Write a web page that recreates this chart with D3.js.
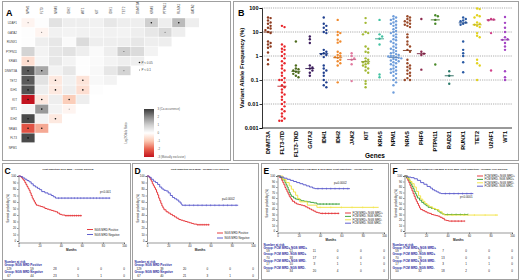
<!DOCTYPE html>
<html lang="en">
<head>
<meta charset="UTF-8">
<title>MRD figure</title>
<style>
  body { margin: 0; background: #fff; }
  svg { display: block; font-family: "Liberation Sans", Arial, sans-serif; }
</style>
</head>
<body>
<script src="https://cdn.jsdelivr.net/npm/d3@7/dist/d3.min.js"></script>
<script>
// ---------- Panel A: pairwise co-occurrence (log2 odds ratio) ----------
const heatRows = ["U2AF1", "GATA2", "RUNX1", "PTPN11", "KRAS", "DNMT3A", "TET2", "IDH1", "KIT", "WT1", "IDH2", "NRAS", "FLT3", "NPM1"];
const heatCols = ["NPM1", "FLT3", "NRAS", "IDH2", "WT1", "KIT", "IDH1", "TET2", "DNMT3A", "KRAS", "PTPN11", "RUNX1", "GATA2"];
const logOdds = [
  [-0.2, 0.05, 0.6, 0.35, 0.35, 0.3, 0.5, 0.35, 0.35, 1.0, 0.35, 1.3, 0.35],
  [0.05, -0.2, 0.3, 0.25, 0.3, 0.25, 0.3, 0.25, 0.35, 0.5, 0.8, 0.35],
  [0.05, 0.35, 0.5, 0.1, 0.75, 0.35, 0.35, 0.35, 0.5, 0.35, 0.35],
  [0.9, 0.25, 0.5, 0.6, 0.35, 0.1, 0.35, 1.0, 0.75, 0.25],
  [-0.6, 0.2, 0.5, 0.25, 0.05, 0.1, 0.25, 0.35, 0.35],
  [2.6, 1.6, 0.25, 0.5, 0.05, 0.15, 0.5, 0.9],
  [2.6, 0.6, -0.4, 0.3, -0.5, 0.15, 0.25],
  [2.7, 0.35, -0.4, 0.35, -0.6, 0.05],
  [-3.0, -0.4, 0.35, -0.9, 0.35],
  [0.2, 1.8, 0.25, -0.2],
  [2.8, 0.25, -0.4],
  [-2.2, -1.3],
  [2.8],
  []
];
// 2 = P < 0.05, 1 = P < 0.1
const signif = [
  [1, 0, 0, 0, 0, 0, 0, 0, 0, 2, 0, 2, 0],
  [0, 1, 0, 0, 0, 0, 0, 0, 0, 0, 1, 0],
  [0, 0, 0, 0, 0, 0, 0, 0, 0, 0, 0],
  [0, 0, 0, 0, 0, 0, 0, 1, 0, 0],
  [2, 0, 0, 0, 0, 0, 0, 0, 0],
  [2, 2, 0, 0, 0, 0, 0, 1],
  [2, 0, 2, 0, 2, 0, 0],
  [2, 0, 2, 0, 2, 0],
  [2, 2, 0, 2, 0],
  [0, 2, 0, 1],
  [2, 0, 2],
  [2, 2],
  [2],
  []
];
const oddsTicks = ["3 (Co-occurrence)", "2", "1", "0", "-1", "-2", "-3 (Mutually exclusive)"];

// ---------- Panel B: variant allele frequency per gene ----------
const vafGenes = ["DNMT3A", "FLT3-ITD", "FLT3-TKD", "GATA2", "IDH1", "IDH2", "JAK2", "KIT", "KRAS", "NPM1", "NRAS", "PHF6", "PTPN11", "RAD21", "RUNX1", "TET2", "U2AF1", "WT1"];
const vafColors = ["#8e3b1f", "#e8262b", "#4d6b1c", "#3d1d5e", "#1f3f8f", "#f08a2e", "#e27aa0", "#a3b935", "#41c2a2", "#6e9ddb", "#9a4a2a", "#8c2a4e", "#4a8a2a", "#2a7a6a", "#2a5aa4", "#e2d21e", "#d2428a", "#a444c4"];
const vafValues = [
  [40, 38, 30, 25, 22, 18, 15, 14, 12, 10, 9, 4, 3.5, 3, 2.5, 2.2, 1.4, 0.7, 0.45],
  [18, 16, 3, 2.5, 2, 1.8, 1.5, 1.2, 1, 0.8, 0.6, 0.5, 0.4, 0.3, 0.25, 0.2, 0.15, 0.12, 0.1, 0.1, 0.08, 0.06, 0.05, 0.04, 0.03, 0.025, 0.02, 0.015, 0.012, 0.01, 0.008, 0.006, 0.005, 0.004, 0.003, 0.0025, 0.002, 0.002],
  [4, 0.4, 0.3, 0.28, 0.25, 0.22, 0.2, 0.18, 0.15, 0.13],
  [6.5, 5, 3.5, 0.4, 0.33, 0.3, 0.25, 0.2, 0.15],
  [40, 22, 18, 15, 12, 10, 9, 1.8, 1.5, 1.3, 1.2, 1.1, 0.9, 0.4, 0.3, 0.25, 0.2, 0.15, 0.1, 0.08, 0.06, 0.05],
  [32, 10, 9, 7.5, 4.8, 4, 3.6, 1.5, 1.3, 1.1, 1, 0.9, 0.85, 0.7, 0.6, 0.5, 0.4, 0.08],
  [1.3, 1, 0.8, 0.7, 0.45, 0.09],
  [38, 24, 10, 9, 8, 2.5, 2, 1.5, 1.4, 0.8, 0.7, 0.6, 0.55, 0.5, 0.45, 0.4, 0.35, 0.3, 0.25, 0.2, 0.09, 0.07, 0.05],
  [32, 8, 6.5, 5.2, 3, 0.17, 0.13],
  [45, 40, 35, 32, 28, 25, 22, 20, 18, 15, 13, 11, 10, 9, 8, 7, 6, 5, 4.5, 4, 3.5, 3, 2.5, 2.2, 2, 1.8, 1.6, 1.4, 1.3, 1.2, 1.1, 1, 1, 0.95, 0.9, 0.85, 0.8, 0.75, 0.7, 0.65, 0.6, 0.55, 0.5, 0.45, 0.4, 0.35, 0.3, 0.28, 0.25, 0.22, 0.2, 0.18, 0.15, 0.12, 0.1, 0.08, 0.06, 0.03],
  [45, 40, 35, 30, 28, 25, 22, 20, 18, 16, 8, 6, 4, 3, 2.5, 1.8, 1.5, 0.7, 0.5, 0.4, 0.35, 0.3, 0.25, 0.2, 0.18, 0.15, 0.12, 0.1, 0.1],
  [35, 1.5, 1.25, 1.1, 0.27],
  [50, 45, 32, 22, 0.44],
  [0.23, 0.15, 0.07],
  [40, 35, 30, 28, 25, 22, 20, 4, 1.8, 1.3, 1, 0.55, 0.21],
  [95, 90, 50, 45, 40, 25, 22, 20, 18, 16, 9, 7, 6, 0.7, 0.5, 0.4, 0.1],
  [35, 33, 31, 9, 0.25],
  [42, 24, 15, 10, 6, 5, 4.7, 3.5, 2.5, 1.8, 0.23, 0.13, 0.1]
];
const vafMedians = [10, 0.055, 0.23, 0.3, 1.25, 0.85, 0.71, 0.58, 5.2, 0.86, 1.7, 1.25, 32, 0.15, 24, 20, 32, 4.7];
const vafTicks = [0.001, 0.01, 0.1, 1, 10, 100];

// ---------- Panels C-F: Kaplan-Meier curves ----------
const monthTicks = [0, 20, 40, 60, 80, 100];
const survTicks = [0, 10, 20, 30, 40, 50, 60, 70, 80, 90, 100];

const cPos = [[0,100],[2,99],[3,97],[4,95],[5,93],[6,90],[7,87],[8,84],[9,81],[10,78],[11,74],[12,70],[13,66],[14,63],[15,60],[16,57],[17,55],[19,54],[21,53],[23,52],[25,50],[27,49],[29,48],[31,47],[33,46],[35,45],[37,43],[39,41],[41,40],[44,39],[60,39]];
const cPosCens = [45, 47, 49, 51, 53, 55, 57, 59];
const cNeg = [[0,100],[2,99],[4,97],[6,95],[8,93],[10,91],[12,88],[14,85],[16,83],[18,81],[20,79],[22,76],[25,74],[28,72],[31,70],[33,68],[35,66],[87,66]];
const cNegCens = [38, 41, 44, 47, 50, 53, 56, 59, 62, 65, 68, 71, 74, 77, 80, 83, 86];

const dPos = [[0,100],[2,98],[3,95],[4,92],[5,88],[6,85],[7,82],[8,79],[9,75],[10,71],[11,66],[12,62],[13,58],[14,54],[15,51],[16,48],[18,45],[20,43],[22,41],[24,39],[26,37],[28,35],[30,33],[32,32],[34,31],[36,30],[38,29],[40,28],[42,27],[44,26],[47,25],[59,25]];
const dPosCens = [48, 50, 52, 54, 56, 58];
const dNeg = [[0,100],[2,98],[4,95],[6,92],[8,90],[10,87],[12,83],[14,80],[16,78],[18,77],[20,74],[22,70],[24,67],[26,65],[28,63],[30,60],[32,57],[33,55],[86,55]];
const dNegCens = [36, 40, 44, 48, 52, 56, 60, 64, 68, 72, 76, 80, 84];

const eRed = [[0,100],[2,97],[4,92],[5,88],[6,84],[7,79],[8,75],[9,71],[10,67],[11,63],[12,60],[13,57],[14,54],[16,51],[18,49],[20,48],[22,47],[24,46],[26,44],[28,42],[30,40],[32,38],[34,36],[36,34],[38,33],[40,32],[58,32]];
const eRedCens = [42, 45, 48, 51, 54, 57];
const eGreen = [[0,100],[3,97],[5,93],[7,88],[8,84],[9,80],[10,75],[11,70],[12,66],[13,63],[15,60],[17,58],[19,57],[22,55],[25,54],[28,53],[31,52],[34,51],[37,49],[58,49]];
const eGreenCens = [40, 43, 46, 49, 52, 55, 58];
const eYellow = [[0,100],[5,94],[8,88],[11,82],[13,76],[15,71],[17,65],[19,59],[21,53],[28,47],[37,43],[95,43]];
const eYellowCens = [40, 50, 60, 70, 80, 90];
const eBlue = [[0,100],[3,98],[6,96],[9,94],[12,92],[15,90],[18,88],[21,86],[24,84],[27,82],[30,80],[33,78],[35,77],[68,77]];
const eBlueCens = [38, 42, 46, 50, 54, 58, 62, 66];

const fRed = [[0,100],[2,96],[3,92],[4,88],[5,83],[6,78],[7,73],[8,68],[9,63],[10,58],[11,54],[12,50],[13,46],[14,42],[15,39],[17,37],[19,35],[21,33],[23,32],[25,30],[27,29],[29,28],[31,27],[33,25],[35,23],[37,20],[39,19],[41,18],[56,18]];
const fRedCens = [44, 47, 50, 53, 56];
const fGreen = [[0,100],[2,97],[4,93],[5,89],[6,85],[7,81],[8,77],[9,72],[10,68],[11,64],[12,60],[14,56],[16,52],[18,49],[20,46],[22,43],[25,41],[28,39],[31,36],[33,33],[35,31],[37,30],[59,30]];
const fGreenCens = [40, 44, 48, 52, 56, 59];
const fYellow = [[0,100],[3,95],[5,90],[7,86],[9,80],[11,72],[13,64],[15,58],[17,54],[19,50],[21,47],[23,44],[26,41],[29,39],[32,35],[35,31],[37,29],[87,29]];
const fYellowCens = [45, 55, 65, 75, 85];
const fBlue = [[0,100],[3,98],[6,97],[9,95],[12,92],[15,88],[18,85],[21,81],[24,78],[26,75],[28,73],[30,71],[32,69],[34,68],[64,68]];
const fBlueCens = [38, 42, 46, 50, 54, 58, 62];

const ngsGroups = ["NGS MRD Positive", "NGS MRD Negative"];
const comboGroups = ["FCM MRD+ NGS MRD+", "FCM MRD- NGS MRD+", "FCM MRD+ NGS MRD-", "FCM MRD- NGS MRD-"];
const cRisk = [[129, 59, 28, 0, 0, 0], [67, 44, 23, 5, 1, 0]];
const dRisk = [[129, 39, 20, 0, 0, 0], [67, 40, 21, 3, 1, 0]];
const eRisk = [[59, 21, 11, 0, 0, 0], [70, 38, 17, 0, 0, 0], [17, 10, 3, 1, 1, 0], [50, 34, 20, 4, 0, 0]];
const fRisk = [[59, 20, 7, 0, 0, 0], [70, 19, 13, 0, 0, 0], [17, 8, 3, 1, 1, 0], [50, 32, 18, 2, 0, 0]];

const RED = "#e3262a", BLUE = "#5050c8", GREEN = "#2e9a2e", YELLOW = "#f2e23a";
const TABLE_BLUE = "#2b2ba0";

const width = 520, height = 280;
const svg = d3.select("body").append("svg")
    .attr("width", width)
    .attr("height", height);

function box(x0, y0, x1, y1) {
    svg.append("rect")
        .attr("x", x0 + 0.5).attr("y", y0 + 0.5)
        .attr("width", x1 - x0).attr("height", y1 - y0)
        .attr("fill", "none")
        .attr("stroke", "#a0a0a0")
        .attr("stroke-width", 1);
}

function letter(t, x, y, size) {
    svg.append("text").attr("x", x).attr("y", y).text(t)
        .attr("font-size", size || 9).attr("font-weight", "bold").attr("fill", "#000");
}

// ===================== Panel A =====================
box(2, 1, 230, 160);
letter("A", 6, 16);

const cellW = 13.7, cellH = 9.6;
const hx = d3.scaleBand().domain(heatCols).range([21.5, 21.5 + cellW * heatCols.length]);
const hy = d3.scaleBand().domain(heatRows).range([18.2, 18.2 + cellH * heatRows.length]);

let heatColor = d3.scaleLinear()
    .domain([-3, -2, -1, 0, 1, 2, 3])
    .range(["#c3141f", "#e8614d", "#fbc8b2", "#ffffff", "#cfcfcf", "#8c8c8c", "#3a3a3a"])
    .clamp(true);

let cells = [];
logOdds.forEach((row, i) => {
    row.forEach((v, j) => {
        cells.push({ r: heatRows[i], c: heatCols[j], v: v, s: signif[i][j] });
    });
});

const gA = svg.append("g");
gA.selectAll("rect.cell")
    .data(cells)
    .enter()
    .append("rect")
    .attr("class", "cell")
    .attr("x", d => hx(d.c))
    .attr("y", d => hy(d.r))
    .attr("width", hx.bandwidth() - 0.6)
    .attr("height", hy.bandwidth() - 0.6)
    .attr("fill", d => heatColor(d.v));

gA.selectAll("circle.sig")
    .data(cells.filter(d => d.s > 0))
    .enter()
    .append("circle")
    .attr("cx", d => hx(d.c) + hx.bandwidth() / 2 - 0.3)
    .attr("cy", d => hy(d.r) + hy.bandwidth() / 2 - 0.3)
    .attr("r", d => d.s === 2 ? 0.8 : 0.45)
    .attr("fill", "#111");

gA.selectAll("text.rowlab")
    .data(heatRows)
    .enter()
    .append("text")
    .attr("x", 17)
    .attr("y", d => hy(d) + hy.bandwidth() / 2 + 1)
    .attr("text-anchor", "end")
    .attr("font-size", 3)
    .attr("fill", "#444")
    .text(d => d);

gA.selectAll("text.collab")
    .data(heatCols)
    .enter()
    .append("text")
    .attr("transform", d => `translate(${hx(d) + hx.bandwidth() / 2 + 1}, 14) rotate(-90)`)
    .attr("font-size", 3)
    .attr("fill", "#444")
    .text(d => d);

// significance legend
gA.append("circle").attr("cx", 139.5).attr("cy", 62.5).attr("r", 0.8).attr("fill", "#111");
gA.append("text").attr("x", 141.5).attr("y", 63.5).attr("font-size", 3).attr("fill", "#444").text("P < 0.05");
gA.append("circle").attr("cx", 139.5).attr("cy", 70).attr("r", 0.45).attr("fill", "#111");
gA.append("text").attr("x", 141.5).attr("y", 71).attr("font-size", 3).attr("fill", "#444").text("P < 0.1");

// colour bar
const barY = d3.scaleLinear().domain([3, -3]).range([109, 157]);
const defs = svg.append("defs");
const grad = defs.append("linearGradient").attr("id", "oddsGrad")
    .attr("x1", 0).attr("y1", 0).attr("x2", 0).attr("y2", 1);
d3.range(3, -3.01, -0.5).forEach(v => {
    grad.append("stop").attr("offset", (v - 3) / -6).attr("stop-color", heatColor(v));
});
gA.append("rect").attr("x", 144).attr("y", barY(3)).attr("width", 10).attr("height", barY(-3) - barY(3))
    .attr("fill", "url(#oddsGrad)");
gA.selectAll("text.oddtick")
    .data(oddsTicks)
    .enter()
    .append("text")
    .attr("x", 157.5)
    .attr("y", (d, i) => barY(3 - i) + 1)
    .attr("font-size", 2.8)
    .attr("fill", "#555")
    .text(d => d);
gA.append("text")
    .attr("transform", "translate(126.5, 133) rotate(-90)")
    .attr("text-anchor", "middle")
    .attr("font-size", 2.8)
    .attr("fill", "#555")
    .text("Log2 Odds Ratio");

// ===================== Panel B =====================
box(233, 1, 518, 160);
letter("B", 238, 16);

const bx = d3.scalePoint().domain(vafGenes).range([268, 505]);
const by = d3.scaleLog().domain([0.001, 100]).range([128, 8]);
const gB = svg.append("g");

gB.selectAll("line.grid")
    .data(vafTicks.filter(t => t > 0.001))
    .enter()
    .append("line")
    .attr("x1", 262).attr("x2", 512)
    .attr("y1", d => by(d)).attr("y2", d => by(d))
    .attr("stroke", "#9a9a9a")
    .attr("stroke-width", 0.8)
    .attr("stroke-dasharray", "1.2,1");

const yAxisB = d3.axisLeft(by).tickValues(vafTicks).tickFormat(d => String(d)).tickSize(2.5);
gB.append("g").attr("transform", "translate(262,0)").call(yAxisB)
    .call(g => g.selectAll("text").attr("font-size", 5.5).attr("font-weight", "bold").attr("fill", "#000").attr("x", -3.5))
    .call(g => g.selectAll("line, path").attr("stroke", "#000").attr("stroke-width", 0.8));
gB.append("line").attr("x1", 262).attr("x2", 512).attr("y1", 128).attr("y2", 128)
    .attr("stroke", "#000").attr("stroke-width", 0.8);

gB.selectAll("text.gene")
    .data(vafGenes)
    .enter()
    .append("text")
    .attr("transform", d => `translate(${bx(d) + 2}, 131) rotate(-90)`)
    .attr("text-anchor", "end")
    .attr("font-size", 5.5)
    .attr("font-weight", "bold")
    .attr("fill", "#000")
    .text(d => d);

gB.append("text").attr("x", 375).attr("y", 158).attr("text-anchor", "middle")
    .attr("font-size", 6.5).attr("font-weight", "bold").text("Genes");
gB.append("text")
    .attr("transform", "translate(244, 68) rotate(-90)")
    .attr("text-anchor", "middle")
    .attr("font-size", 6)
    .attr("font-weight", "bold")
    .text("Variant Allele Frequency (%)");

// simple beeswarm layout so points do not overlap
const dotR = 1.2, step = 2.6;
let dots = [];
vafValues.forEach((vals, gi) => {
    let placed = [];
    vals.slice().sort((a, b) => b - a).forEach(v => {
        const cy = by(v);
        let off = 0;
        for (let k = 0; k < 12; k++) {
            const cand = k === 0 ? 0 : (k % 2 ? 1 : -1) * Math.ceil(k / 2) * step;
            const hit = placed.some(p => Math.abs(p.cy - cy) < step && Math.abs(p.dx - cand) < step);
            if (!hit) { off = cand; break; }
        }
        placed.push({ cy: cy, dx: off });
        dots.push({ gi: gi, cx: bx(vafGenes[gi]) + off, cy: cy });
    });
});

gB.selectAll("circle.dot")
    .data(dots)
    .enter()
    .append("circle")
    .attr("cx", d => d.cx)
    .attr("cy", d => d.cy)
    .attr("r", dotR)
    .attr("fill", d => vafColors[d.gi]);

gB.selectAll("line.median")
    .data(vafMedians)
    .enter()
    .append("line")
    .attr("x1", (d, i) => bx(vafGenes[i]) - 4.5)
    .attr("x2", (d, i) => bx(vafGenes[i]) + 4.5)
    .attr("y1", d => by(d)).attr("y2", d => by(d))
    .attr("stroke", (d, i) => d3.color(vafColors[i]).darker(0.5))
    .attr("stroke-width", 0.9);

// ===================== Panels C-F =====================
function survivalAt(pts, t) {
    let s = pts[0][1];
    pts.forEach(p => { if (p[0] <= t) s = p[1]; });
    return s;
}

function kmPanel(o) {
    box(o.box[0], o.box[1], o.box[2], o.box[3]);
    letter(o.letter, o.box[0] + 2.5, o.box[1] + 11, 8.5);
    const g = svg.append("g");
    const x = d3.scaleLinear().domain([0, 100]).range([o.plot[0], o.plot[2]]);
    const y = d3.scaleLinear().domain([0, 100]).range([o.plot[3], o.plot[1]]);
    // columns of the number-at-risk table spread across the panel
    const tcol = d3.scaleLinear().domain([0, 100]).range([o.box[0] + 7, o.plot[2]]);

    g.append("text").attr("x", o.titleX).attr("y", o.box[1] + 6.5)
        .attr("text-anchor", "middle").attr("font-size", 2.5).attr("font-weight", "bold")
        .attr("fill", "#222").text(o.title);

    const yAx = d3.axisLeft(y).tickValues(survTicks).tickSize(1.5).tickPadding(1);
    g.append("g").attr("transform", `translate(${o.plot[0]},0)`).call(yAx)
        .call(a => a.selectAll("text").attr("font-size", 2.8).attr("fill", "#222"))
        .call(a => a.selectAll("line, path").attr("stroke", "#333").attr("stroke-width", 0.5));
    const xAx = d3.axisBottom(x).tickValues(monthTicks).tickSize(1.5).tickPadding(1);
    g.append("g").attr("transform", `translate(0,${o.plot[3] + 1.5})`).call(xAx)
        .call(a => a.selectAll("text").attr("font-size", 2.8).attr("fill", "#222"))
        .call(a => a.selectAll("line, path").attr("stroke", "#333").attr("stroke-width", 0.5));

    g.append("text").attr("x", (o.plot[0] + o.plot[2]) / 2).attr("y", o.plot[3] + 9.5)
        .attr("text-anchor", "middle").attr("font-size", 3).attr("font-weight", "bold").attr("fill", "#222").text("Months");
    g.append("text")
        .attr("transform", `translate(${o.box[0] + 7}, ${(o.plot[1] + o.plot[3]) / 2}) rotate(-90)`)
        .attr("text-anchor", "middle").attr("font-size", 2.8).attr("fill", "#222")
        .text("Survival probability (%)");

    const line = d3.line().curve(d3.curveStepAfter).x(d => x(d[0])).y(d => y(d[1]));
    o.curves.forEach(c => {
        g.append("path").attr("d", line(c.pts)).attr("fill", "none")
            .attr("stroke", c.color).attr("stroke-width", 0.9);
        g.selectAll(null).data(c.cens).enter().append("line")
            .attr("x1", t => x(t)).attr("x2", t => x(t))
            .attr("y1", t => y(survivalAt(c.pts, t)) - 1).attr("y2", t => y(survivalAt(c.pts, t)) + 1)
            .attr("stroke", c.color).attr("stroke-width", 0.5);
    });

    // legend
    o.curves.forEach((c, i) => {
        const ly = o.legend[1] + i * o.legend[2];
        g.append("line").attr("x1", o.legend[0]).attr("x2", o.legend[0] + 6)
            .attr("y1", ly).attr("y2", ly).attr("stroke", c.color).attr("stroke-width", 0.9);
        g.append("text").attr("x", o.legend[0] + 7.5).attr("y", ly + 1)
            .attr("font-size", 2.8).attr("fill", "#222").text(c.name);
    });

    g.append("text").attr("x", o.pval[0]).attr("y", o.pval[1]).attr("font-size", 3)
        .attr("fill", "#222").text(o.pText);

    // number at risk table
    const tx = o.box[0] + 2.5;
    g.append("text").attr("x", tx).attr("y", o.table[0]).attr("font-size", 3)
        .attr("font-weight", "bold").attr("fill", TABLE_BLUE).text("Number at risk");
    o.curves.forEach((c, i) => {
        const gy = o.table[0] + o.table[1] * (2 * i + 1);
        g.append("text").attr("x", tx).attr("y", gy).attr("font-size", 3)
            .attr("font-weight", "bold").attr("fill", TABLE_BLUE).text("Group: " + c.name);
        g.selectAll(null).data(o.risk[i]).enter().append("text")
            .attr("x", (d, k) => tcol(monthTicks[k]))
            .attr("y", gy + o.table[1])
            .attr("text-anchor", "middle")
            .attr("font-size", 3).attr("fill", "#222")
            .text(d => d);
    });
}

kmPanel({
    letter: "C", box: [2, 163, 130, 279], plot: [18.5, 176, 124, 241], titleX: 68,
    title: "Post Induction NGS MRD - Overall Survival",
    curves: [
        { name: ngsGroups[0], color: RED, pts: cPos, cens: cPosCens },
        { name: ngsGroups[1], color: BLUE, pts: cNeg, cens: cNegCens }
    ],
    legend: [87, 229.5, 5], pval: [100, 192.5], pText: "p<0.001",
    table: [262.5, 3.5], risk: cRisk
});

kmPanel({
    letter: "D", box: [132, 163, 258, 279], plot: [147, 176, 253, 241], titleX: 200,
    title: "Post Induction NGS MRD - Relapse Free Survival",
    curves: [
        { name: ngsGroups[0], color: RED, pts: dPos, cens: dPosCens },
        { name: ngsGroups[1], color: BLUE, pts: dNeg, cens: dNegCens }
    ],
    legend: [217, 233, 5], pval: [222, 200], pText: "p=0.0002",
    table: [262.5, 3.5], risk: dRisk
});

kmPanel({
    letter: "E", box: [261, 163, 388, 279], plot: [277.5, 176, 384, 231], titleX: 326,
    title: "Comparison between FCM MRD & NGS MRD (Post Induction) - Overall Survival",
    curves: [
        { name: comboGroups[0], color: RED, pts: eRed, cens: eRedCens },
        { name: comboGroups[1], color: GREEN, pts: eGreen, cens: eGreenCens },
        { name: comboGroups[2], color: YELLOW, pts: eYellow, cens: eYellowCens },
        { name: comboGroups[3], color: BLUE, pts: eBlue, cens: eBlueCens }
    ],
    legend: [345, 213, 3.4], pval: [334, 184], pText: "p=0.0002",
    table: [245.5, 3.3], risk: eRisk
});

kmPanel({
    letter: "F", box: [390, 163, 518, 279], plot: [404.5, 176, 512, 231], titleX: 457,
    title: "Comparison between FCM MRD & NGS MRD (Post Induction) - Relapse Free Survival",
    curves: [
        { name: comboGroups[0], color: RED, pts: fRed, cens: fRedCens },
        { name: comboGroups[1], color: GREEN, pts: fGreen, cens: fGreenCens },
        { name: comboGroups[2], color: YELLOW, pts: fYellow, cens: fYellowCens },
        { name: comboGroups[3], color: BLUE, pts: fBlue, cens: fBlueCens }
    ],
    legend: [477, 176, 3.4], pval: [460, 198], pText: "p<0.0001",
    table: [245.5, 3.3], risk: fRisk
});
</script>
</body>
</html>
